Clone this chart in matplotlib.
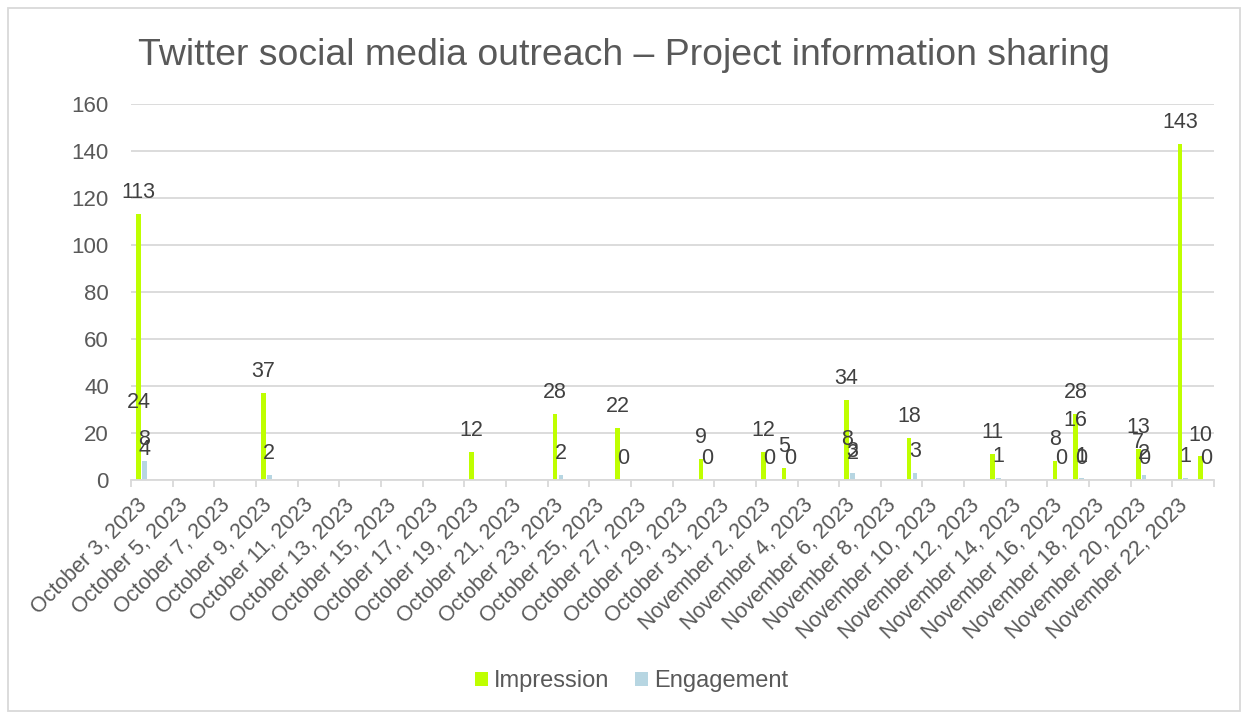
import datetime as dt

import matplotlib
matplotlib.use("Agg")
import matplotlib.pyplot as plt
import matplotlib.dates as mdates
from matplotlib.patches import Patch, Rectangle
import numpy as np

plt.rcParams["font.family"] = ["Liberation Sans", "DejaVu Sans"]

# data (one row per post, several posts can share a date)
post_dates = ["2023-10-03", "2023-10-03", "2023-10-09", "2023-10-19", "2023-10-23",
              "2023-10-26", "2023-10-30", "2023-11-02", "2023-11-03", "2023-11-06",
              "2023-11-06", "2023-11-09", "2023-11-13", "2023-11-16", "2023-11-17",
              "2023-11-17", "2023-11-20", "2023-11-20", "2023-11-22", "2023-11-23"]
impression = [113, 24, 37, 12, 28, 22, 9, 12, 5, 34, 8, 18, 11, 8, 28, 16, 13, 7, 143, 10]
engagement = [8, 4, 2, np.nan, 2, 0, 0, 0, 0, 3, 2, 3, 1, 0, 1, 0, 2, 0, 1, 0]

axis_start = dt.date(2023, 10, 3)
axis_end = dt.date(2023, 11, 24)

GREEN = "#BFFF00"
BLUE = "#B7D6E2"
GRID = "#D9D9D9"
TXT = "#595959"
LBL = "#404040"

fig = plt.figure(figsize=(12.48, 7.15), dpi=100)
ax = fig.add_axes([0.105, 0.3287, 0.8678, 0.5258])

x = mdates.date2num([dt.date.fromisoformat(d) for d in post_dates])
slot = x + 0.5  # bars sit in the middle of each day slot
w = 0.22
ax.bar(slot - 0.14, impression, width=w, color=GREEN, zorder=3)
ax.bar(slot + 0.14, engagement, width=w, color=BLUE, zorder=3)

for xi, v in zip(slot - 0.14, impression):
    ax.annotate(str(v), (xi, v), xytext=(0, 11.5), textcoords="offset points",
                ha="center", va="baseline", fontsize=15.5, color=LBL, zorder=5)
for xi, v in zip(slot + 0.14, engagement):
    if np.isnan(v):
        continue
    ax.annotate(str(int(v)), (xi, v), xytext=(0, 11.5), textcoords="offset points",
                ha="center", va="baseline", fontsize=15.5, color=LBL, zorder=5)

ax.set_xlim(mdates.date2num(axis_start), mdates.date2num(axis_end))
ax.set_ylim(0, 160)
ax.set_yticks(range(0, 161, 20))
ax.tick_params(axis="y", length=0, pad=16, labelsize=16, labelcolor=TXT)
ax.grid(axis="y", color=GRID, linewidth=1.3, zorder=0)

# tick marks every two days, labels shifted a bit right like Excel does
tick_days = [axis_start + dt.timedelta(days=i) for i in range(0, 53, 2)]
ax.set_xticks(mdates.date2num(tick_days))
ax.set_xticklabels([])
ax.tick_params(axis="x", which="major", length=5, width=1.3, color=GRID, direction="out")
label_days = tick_days[:-1]
ax.set_xticks(mdates.date2num(label_days) + 0.6, minor=True)
ax.set_xticklabels([f"{d:%B} {d.day}, {d.year}" for d in label_days], minor=True,
                   rotation=45, ha="right", va="center", rotation_mode="anchor",
                   fontsize=15.5, color=TXT)
ax.tick_params(axis="x", which="minor", length=0, pad=16)

for s in ["top", "right", "left"]:
    ax.spines[s].set_visible(False)
ax.spines["bottom"].set_color(GRID)
ax.spines["bottom"].set_linewidth(1.3)
ax.spines["bottom"].set_zorder(4)

fig.text(0.5, 1 - 65 / 715, "Twitter social media outreach – Project information sharing",
         ha="center", va="baseline", fontsize=26.9, color=TXT)

handles = [Patch(facecolor=GREEN, label="Impression"), Patch(facecolor=BLUE, label="Engagement")]
fig.legend(handles=handles, loc="center", bbox_to_anchor=(0.506, 1 - 681 / 715), ncol=2,
           frameon=False, fontsize=17, labelcolor=TXT, handlelength=0.55, handleheight=0.55,
           handletextpad=0.25, columnspacing=1.1)

# chart frame
fig.patches.append(Rectangle((8 / 1248, 0.005), 1 - 16 / 1248, 1 - 8 / 715 - 0.005,
                             transform=fig.transFigure, fill=False, edgecolor=GRID,
                             linewidth=1.3))

fig.savefig("out.png", dpi=100, facecolor="white")
